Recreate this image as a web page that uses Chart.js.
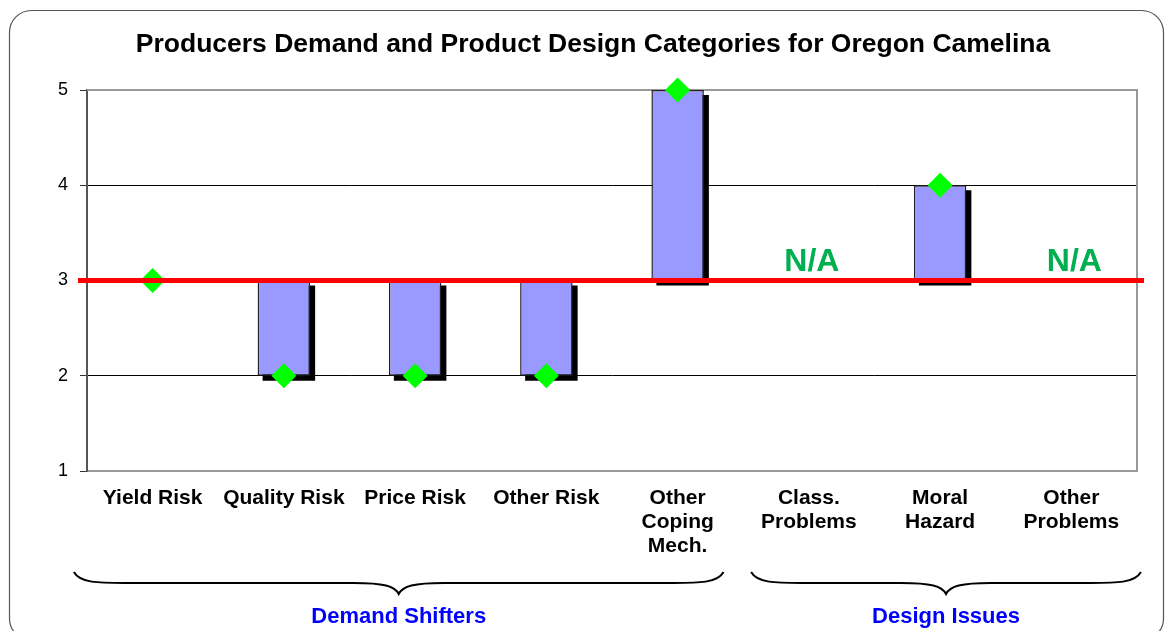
<!DOCTYPE html>
<html>
<head>
<meta charset="utf-8">
<script src="https://cdn.jsdelivr.net/npm/chart.js@4"></script>
<style>
  body { margin: 0; background: #fff; }
  #wrap { width: 1166px; height: 631px; position: relative; }
</style>
</head>
<body>
<div id="wrap"><canvas id="chart" width="1166" height="631"></canvas></div>
<script>
// chart values
var categories = [
    ['Yield Risk'], ['Quality Risk'], ['Price Risk'], ['Other Risk'],
    ['Other', 'Coping', 'Mech.'], ['Class.', 'Problems'], ['Moral', 'Hazard'], ['Other', 'Problems']
];
var scores = [3, 2, 2, 2, 5, null, 4, null];
var baseline = 3;
var yTicks = [1, 2, 3, 4, 5];
var groupLabels = ['Demand Shifters', 'Design Issues'];
var groupFirst = [0, 5];
var groupLast = [4, 7];

var chartTitle = 'Producers Demand and Product Design Categories for Oregon Camelina';

// floating bars from the baseline to each score
var barRanges = scores.map(function (v) {
    if (v == null || v === baseline) return null;
    return [baseline, v];
});

var FONT = '"Liberation Sans", Arial, sans-serif';

var decorPlugin = {
    id: 'decor',
    beforeDraw: function (chart) {
        var ctx = chart.ctx;
        ctx.save();
        // rounded frame
        ctx.strokeStyle = '#555';
        ctx.lineWidth = 1.2;
        ctx.beginPath();
        ctx.roundRect(9.5, 10.5, 1154, 630, 22);
        ctx.stroke();
        // title
        ctx.fillStyle = '#000';
        ctx.font = 'bold 26.5px ' + FONT;
        ctx.textAlign = 'center';
        ctx.textBaseline = 'middle';
        ctx.fillText(chartTitle, 593, 45);
        ctx.restore();
    },
    beforeDatasetsDraw: function (chart) {
        var ctx = chart.ctx, a = chart.chartArea;
        ctx.save();
        // top and right plot border
        ctx.strokeStyle = '#999';
        ctx.lineWidth = 2;
        ctx.beginPath();
        ctx.moveTo(a.left, a.top);
        ctx.lineTo(a.right, a.top);
        ctx.lineTo(a.right, a.bottom);
        ctx.stroke();
        // bar shadows
        var meta = chart.getDatasetMeta(0);
        ctx.fillStyle = '#000';
        meta.data.forEach(function (el, i) {
            if (!barRanges[i]) return;
            var p = el.getProps(['x', 'y', 'base', 'width'], true);
            var top = Math.min(p.y, p.base), bot = Math.max(p.y, p.base);
            ctx.fillRect(p.x - p.width / 2 + 5, top + 5, p.width, bot - top);
        });
        ctx.restore();
    },
    afterDatasetsDraw: function (chart) {
        var ctx = chart.ctx, a = chart.chartArea;
        var xs = chart.scales.x, ys = chart.scales.y;
        ctx.save();
        // reference line at the baseline
        var yb = ys.getPixelForValue(baseline);
        ctx.strokeStyle = '#ff0000';
        ctx.lineWidth = 5;
        ctx.beginPath();
        ctx.moveTo(a.left - 9, yb);
        ctx.lineTo(a.right + 7, yb);
        ctx.stroke();
        // N/A labels
        ctx.fillStyle = '#00b050';
        ctx.font = 'bold 32px ' + FONT;
        ctx.textAlign = 'center';
        ctx.textBaseline = 'alphabetic';
        scores.forEach(function (v, i) {
            if (v == null) ctx.fillText('N/A', xs.getPixelForValue(i) + 3, yb - 10);
        });
        ctx.restore();
    },
    afterDraw: function (chart) {
        var ctx = chart.ctx;
        var xs = chart.scales.x;
        var w = xs.getPixelForValue(1) - xs.getPixelForValue(0);
        var padL = [0.6, 0.44], padR = [0.35, 0.53];
        ctx.save();
        groupLabels.forEach(function (label, g) {
            var x1 = xs.getPixelForValue(groupFirst[g]) - padL[g] * w;
            var x2 = xs.getPixelForValue(groupLast[g]) + padR[g] * w;
            var tip = (x1 + x2) / 2;
            var y0 = 572, y1 = 583, y2 = 594;
            ctx.strokeStyle = '#000';
            ctx.lineWidth = 2;
            ctx.beginPath();
            ctx.moveTo(x1, y0);
            ctx.bezierCurveTo(x1 + 6, y1, x1 + 25, y1, x1 + 50, y1);
            ctx.lineTo(tip - 45, y1);
            ctx.bezierCurveTo(tip - 15, y1, tip - 4, y1 + 3, tip, y2);
            ctx.bezierCurveTo(tip + 4, y1 + 3, tip + 15, y1, tip + 45, y1);
            ctx.lineTo(x2 - 50, y1);
            ctx.bezierCurveTo(x2 - 25, y1, x2 - 6, y1, x2, y0);
            ctx.stroke();
            ctx.fillStyle = '#0000ff';
            ctx.font = 'bold 22px ' + FONT;
            ctx.textAlign = 'center';
            ctx.textBaseline = 'middle';
            ctx.fillText(label, tip, 617);
        });
        ctx.restore();
    }
};

var ctx = document.getElementById('chart').getContext('2d');
var myChart = new Chart(ctx, {
    type: 'bar',
    data: {
        labels: categories,
        datasets: [{
            type: 'bar',
            data: barRanges,
            backgroundColor: '#9999ff',
            borderColor: '#222',
            borderWidth: 1.5,
            borderSkipped: false,
            barPercentage: 0.4,
            categoryPercentage: 1,
            order: 2
        }, {
            type: 'line',
            data: scores,
            showLine: false,
            clip: false,
            pointStyle: 'rectRot',
            pointRadius: 12.5,
            pointHoverRadius: 12.5,
            pointBackgroundColor: '#00ff00',
            pointBorderWidth: 0,
            borderColor: '#00ff00',
            order: 1
        }]
    },
    options: {
        responsive: false,
        animation: false,
        layout: { padding: { top: 90, right: 29, left: 0, bottom: 0 } },
        plugins: {
            legend: { display: false },
            tooltip: { enabled: false },
            title: { display: false }
        },
        scales: {
            x: {
                grid: { display: false },
                border: { color: '#999', width: 2 },
                ticks: {
                    color: '#000',
                    font: { family: FONT, size: 21, weight: 'bold', lineHeight: 1.15 },
                    padding: 7,
                    maxRotation: 0,
                    autoSkip: false
                },
                afterFit: function (scale) { scale.height = 160; }
            },
            y: {
                min: 1,
                max: 5,
                afterBuildTicks: function (scale) {
                    scale.ticks = yTicks.map(function (v) { return { value: v }; });
                },
                grid: {
                    color: function (c) {
                        var v = c.tick ? c.tick.value : null;
                        return (v === 5 || v === 1) ? 'rgba(0,0,0,0)' : '#000';
                    },
                    tickColor: '#333',
                    tickLength: 7,
                    lineWidth: 1
                },
                border: { color: '#555', width: 2 },
                ticks: {
                    color: '#000',
                    font: { family: FONT, size: 18 },
                    padding: 12
                },
                afterFit: function (scale) { scale.width = 87; }
            }
        }
    },
    plugins: [decorPlugin]
});
</script>
</body>
</html>
